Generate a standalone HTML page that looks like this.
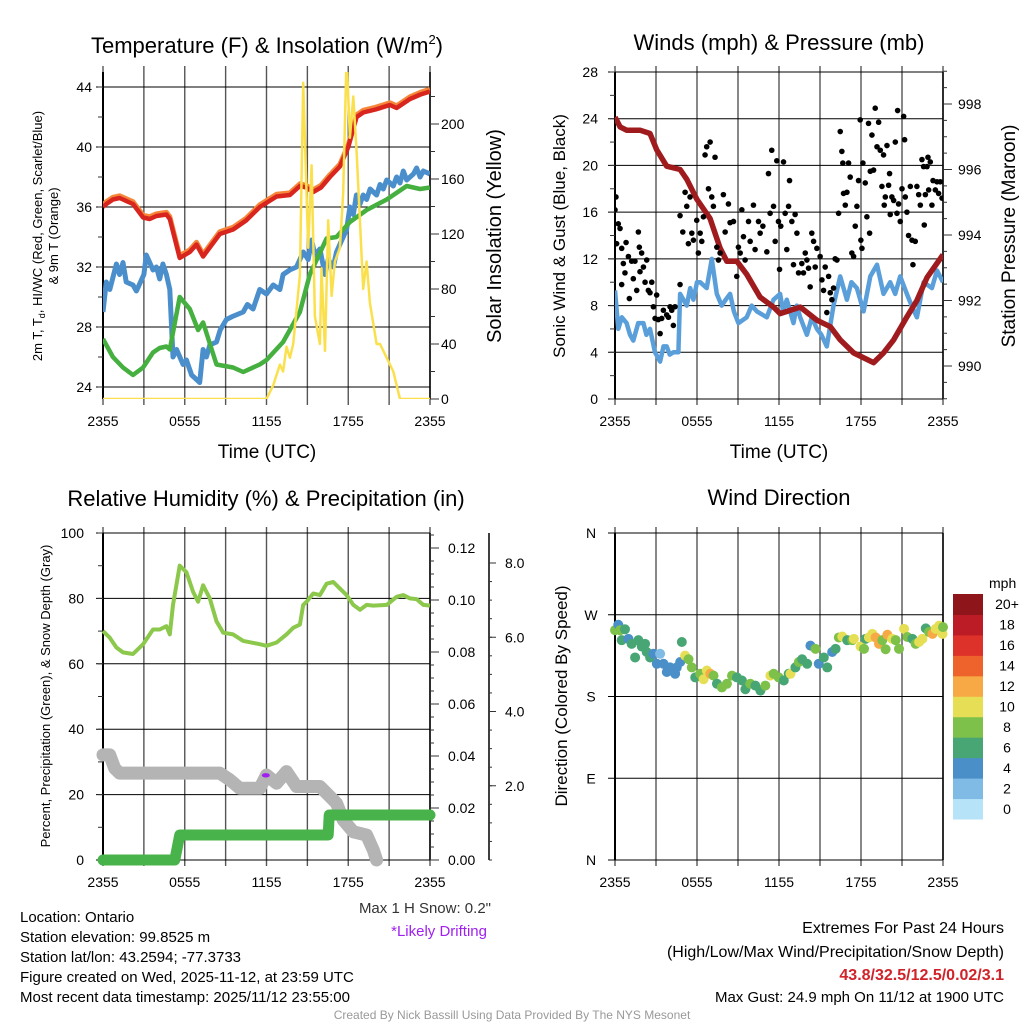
<!DOCTYPE html>
<html><head><meta charset="utf-8"><title>NYS Mesonet Ontario</title>
<style>
html,body{margin:0;padding:0;background:#fff;}
svg{display:block;font-family:"Liberation Sans",Arial,sans-serif;}
</style></head>
<body>
<svg id="fig" xmlns="http://www.w3.org/2000/svg" width="1024" height="1024" viewBox="0 0 1024 1024">
<rect width="1024" height="1024" fill="#fff"/>
<g id="layer"></g>
<!-- titles -->
<text x="267" y="53" font-size="22" text-anchor="middle">Temperature (F) &amp; Insolation (W/m<tspan font-size="13" dy="-9">2</tspan><tspan dy="9">)</tspan></text>
<text x="779" y="50" font-size="22" text-anchor="middle">Winds (mph) &amp; Pressure (mb)</text>
<text x="266" y="506" font-size="22" text-anchor="middle">Relative Humidity (%) &amp; Precipitation (in)</text>
<text x="779" y="505" font-size="22" text-anchor="middle">Wind Direction</text>
<!-- axis titles -->
<text x="267" y="458" font-size="19" text-anchor="middle">Time (UTC)</text>
<text x="779" y="458" font-size="19" text-anchor="middle">Time (UTC)</text>
<text transform="translate(42,236) rotate(-90)" font-size="13" text-anchor="middle">2m T, T<tspan font-size="9" dy="3">d</tspan><tspan dy="-3">, HI/WC (Red, Green, Scarlet/Blue)</tspan></text>
<text transform="translate(58,236) rotate(-90)" font-size="13" text-anchor="middle">&amp; 9m T (Orange)</text>
<text transform="translate(501,236) rotate(-90)" font-size="20" text-anchor="middle">Solar Insolation (Yellow)</text>
<text transform="translate(565,236) rotate(-90)" font-size="17" text-anchor="middle">Sonic Wind &amp; Gust (Blue, Black)</text>
<text transform="translate(1015,236) rotate(-90)" font-size="19" text-anchor="middle">Station Pressure (Maroon)</text>
<text transform="translate(50,696) rotate(-90)" font-size="13" text-anchor="middle">Percent, Precipitation (Green), &amp; Snow Depth (Gray)</text>
<text transform="translate(567,696) rotate(-90)" font-size="17" text-anchor="middle">Direction (Colored By Speed)</text>
<!-- info text -->
<g font-size="15" fill="#000">
<text x="20" y="922">Location: Ontario</text>
<text x="20" y="942">Station elevation: 99.8525 m</text>
<text x="20" y="962">Station lat/lon: 43.2594; -77.3733</text>
<text x="20" y="982">Figure created on Wed, 2025-11-12, at 23:59 UTC</text>
<text x="20" y="1002">Most recent data timestamp: 2025/11/12 23:55:00</text>
<text x="491" y="913" text-anchor="end" fill="#333">Max 1 H Snow: 0.2"</text>
<text x="487" y="936" text-anchor="end" fill="#a020f0">*Likely Drifting</text>
<text x="1004" y="933" text-anchor="end" font-size="16">Extremes For Past 24 Hours</text>
<text x="1004" y="957" text-anchor="end" font-size="16">(High/Low/Max Wind/Precipitation/Snow Depth)</text>
<text x="1004" y="980" text-anchor="end" font-size="16" font-weight="bold" fill="#d0232a">43.8/32.5/12.5/0.02/3.1</text>
<text x="1004" y="1002" text-anchor="end">Max Gust: 24.9 mph On 11/12 at 1900 UTC</text>
</g>
<text x="512" y="1019" text-anchor="middle" font-size="12" fill="#999">Created By Nick Bassill Using Data Provided By The NYS Mesonet</text>
</svg>
<script>
// ---------- DATA ----------
const timeTicks = ["2355","0555","1155","1755","2355"];
const tempTicks = [24,28,32,36,40,44];
const solarTicks = [0,40,80,120,160,200];
const windTicks = [0,4,8,12,16,20,24,28];
const presTicks = [990,992,994,996,998];
const rhTicks = [0,20,40,60,80,100];
const precipTicks = ["0.00","0.02","0.04","0.06","0.08","0.10","0.12"];
const snowTicks = ["2.0","4.0","6.0","8.0"];
const dirTicks = ["N","E","S","W","N"];
const speedBins = ["0","2","4","6","8","10","12","14","16","18","20+"];

const tempHours = [0,0.24,0.73,1.22,1.47,2.2,2.94,3.43,3.92,4.65,4.9,5.63,6.37,6.86,7.35,8.57,9.55,10.5,11.51,12.74,13.72,14.45,14.9,15.43,16.0,16.65,17.39,18.0,18.61,19.1,20.0,21.06,21.55,22.53,23.3,24];
const tempVals  = [36.0,36.2,36.5,36.6,36.5,36.2,35.3,35.2,35.4,35.5,35.2,32.6,33.0,33.5,32.7,34.2,34.5,35.1,36.0,36.7,36.8,37.4,37.3,37.0,37.3,38.0,38.7,40.0,42.0,42.3,42.5,42.8,42.6,43.2,43.5,43.7];
const hiHours = [0,0.24,0.5,0.98,1.22,1.47,1.7,2.2,2.45,3.0,3.18,3.43,3.67,3.92,4.16,4.4,4.65,4.9,5.14,5.4,5.88,6.12,6.5,7.1,7.35,7.59,7.84,8.33,8.6,9.06,9.5,10.29,10.6,11.02,11.5,12.0,12.49,12.98,13.22,13.7,14.2,14.7,15.06,15.31,15.55,15.92,16.29,16.53,16.9,17.14,17.63,17.88,18.12,18.37,18.6,18.86,19.1,19.35,19.6,20.08,20.33,20.57,20.82,21.31,21.55,21.8,22.04,22.29,22.78,23.02,23.27,23.51,24];
const hiVals  = [29.0,31.0,30.5,32.2,31.5,32.3,31.0,30.8,30.4,31.5,32.8,32.3,31.8,32.0,31.2,32.2,31.5,30.5,26.0,26.5,25.5,25.8,24.8,24.3,26.5,26.0,26.8,27.0,27.8,28.5,28.7,29.0,29.5,29.2,30.5,30.2,30.8,30.5,31.5,31.8,32.0,33.0,32.5,33.8,32.8,33.2,31.5,32.5,32.0,33.0,34.0,34.5,36.0,35.5,36.8,36.2,36.8,36.5,37.2,36.8,37.5,37.2,37.8,37.4,38.0,37.6,38.4,37.8,38.2,38.6,38.0,38.4,38.2];
const dewHours = [0,0.73,1.47,2.2,2.94,3.67,4.16,4.65,4.9,5.63,6.37,6.98,7.35,8.33,9.55,10.29,11.5,12.0,13.22,14.45,15.18,16.41,17.14,18.12,19.35,20.82,22.29,23.27,24];
const dewVals  = [27.2,26.0,25.3,24.8,25.3,26.3,26.6,26.7,26.5,30.0,29.2,27.8,28.3,25.5,25.3,25.0,25.5,25.8,27.0,29.0,31.5,33.9,34.0,35.0,35.8,36.5,37.4,37.2,37.3];
const solarHours = [0,12.0,12.49,12.98,13.22,13.47,13.72,13.96,14.45,14.69,15.06,15.31,15.55,15.92,16.04,16.29,16.53,16.78,17.02,17.39,17.63,17.88,18.12,18.37,18.61,19.1,19.35,19.59,20.08,20.33,20.82,21.31,21.8,24];
const solarVals  = [0,0,10,25,20,38,30,40,90,230,110,170,60,40,95,35,130,75,100,110,150,250,190,220,180,80,100,70,40,40,30,20,0,0];

const presHours = [0,0.37,0.85,1.83,2.56,3.05,3.78,4.76,5.25,5.98,6.96,7.69,8.18,8.91,9.64,10.62,11.6,12.08,13.55,14.77,15.75,16.48,17.46,18.43,18.92,19.65,20.39,21.36,22.09,22.83,24];
const presVals  = [997.6,997.3,997.2,997.2,997.1,996.6,996.1,996.0,995.7,995.1,994.5,993.6,993.2,993.2,992.8,992.1,991.8,991.6,991.8,991.4,991.2,990.8,990.4,990.2,990.1,990.4,990.8,991.5,992.0,992.7,993.4];
const sonicHours = [0,0.24,0.5,0.85,1.1,1.34,1.7,2.08,2.3,2.56,2.93,3.3,3.55,3.78,4.0,4.27,4.64,4.76,5.25,5.5,5.74,6.0,6.23,6.71,7.08,7.45,7.81,8.1,8.42,8.7,9.03,9.64,10.0,10.38,11.11,11.6,12.08,12.3,12.57,13.06,13.3,13.55,14.04,14.4,14.77,15.1,15.5,15.99,16.48,16.97,17.3,17.7,18.19,18.68,19.17,19.65,20.14,20.5,20.87,21.36,21.7,22.09,22.58,23.19,23.56,24];
const sonicVals  = [9.3,6.0,7.0,6.5,5.5,5.0,6.5,6.5,5.5,6.0,4.0,3.2,4.5,4.5,3.8,4.0,4.0,9.0,8.0,9.5,8.5,10.0,10.0,9.5,12.0,9.0,8.0,8.5,9.0,7.5,6.5,7.0,8.0,7.5,7.0,8.5,9.0,7.5,8.5,6.5,8.0,7.0,5.5,7.0,6.0,5.5,4.5,8.0,10.5,8.5,10.0,9.5,7.5,10.5,11.5,9.0,10.0,9.0,10.5,9.0,8.0,7.0,10.0,9.5,11.0,10.0];
const gustHours = [0,0.07,0.24,0.37,0.12,0.49,0.61,0.81,0.49,0.73,0.98,1.05,1.22,1.34,1.46,1.59,1.71,1.78,1.83,1.95,2.08,2.2,2.32,2.44,2.56,2.69,2.81,2.93,3.05,3.17,3.3,3.42,3.54,3.78,3.91,4.03,4.15,4.27,4.39,4.76,4.76,4.96,5.13,5.25,5.37,5.49,5.62,5.74,5.98,6.1,6.23,6.35,6.47,6.59,6.71,6.84,6.96,7.08,7.2,7.32,7.45,7.57,7.69,7.93,8.06,8.3,8.42,8.67,8.91,9.03,9.16,9.28,9.4,9.52,9.77,9.89,10.13,10.25,10.5,10.62,10.82,11.11,11.23,11.35,11.47,11.6,11.72,11.84,11.96,12.04,12.13,12.33,12.45,12.57,12.7,12.77,12.94,13.06,13.18,13.31,13.43,13.67,13.79,13.92,14.04,14.16,14.28,14.4,14.53,14.65,14.77,15.01,15.14,15.26,15.38,15.5,15.63,15.75,15.87,15.99,16.11,16.24,16.36,16.48,16.6,16.67,16.72,16.85,16.97,17.09,17.21,17.33,17.46,17.58,17.7,17.82,17.94,17.99,18.07,18.14,18.31,18.43,18.55,18.63,18.68,18.8,18.92,19.04,19.17,19.29,19.41,19.53,19.65,19.7,19.78,19.9,20.02,20.09,20.14,20.26,20.39,20.51,20.63,20.68,20.75,20.87,21.0,21.12,21.19,21.24,21.36,21.48,21.61,21.73,21.8,21.97,22.09,22.22,22.34,22.46,22.58,22.63,22.71,22.83,22.9,22.95,23.07,23.19,23.27,23.44,23.56,23.68,23.8,23.93];
const gustVals  = [16.2,17.3,15.0,14.6,13.3,12.9,11.6,13.4,9.8,10.8,12.2,8.6,11.8,10.3,11.8,9.3,14.3,13.0,10.9,12.5,11.3,10.0,11.9,9.3,9.1,10.0,7.9,6.9,8.9,6.8,5.6,6.9,7.6,7.2,7.0,7.9,7.6,6.3,7.9,9.8,15.7,14.3,17.7,16.5,13.3,17.3,14.2,13.6,15.3,12.5,14.2,13.5,15.6,20.9,21.6,18.0,22.0,17.3,16.5,20.7,13.0,11.9,12.5,17.5,14.3,16.7,15.1,15.2,10.5,13.0,12.5,16.2,13.9,11.9,15.2,13.5,16.6,12.8,15.2,14.2,14.8,12.6,19.3,15.9,21.3,16.5,13.5,20.4,15.2,11.1,14.8,20.3,15.9,12.8,16.5,18.7,15.2,11.5,15.8,14.2,10.8,11.6,10.8,12.5,11.9,11.2,9.6,14.2,13.5,11.3,12.9,12.2,10.2,9.3,11.3,7.4,10.5,9.1,8.5,9.5,12.0,11.9,15.9,22.9,21.2,20.2,17.6,16.6,17.7,20.2,19.0,12.5,12.2,14.8,16.5,18.7,23.9,13.6,12.9,20.2,18.5,15.6,23.6,14.2,19.5,22.6,19.6,24.9,21.6,23.7,21.3,18.2,20.9,16.6,17.3,21.7,18.3,19.3,15.8,17.3,17.0,22.0,15.9,24.7,16.7,15.2,18.0,24.2,22.2,17.3,16.0,14.0,18.2,13.6,11.5,13.5,18.2,17.5,16.6,20.5,19.9,14.9,17.5,19.9,20.7,17.9,20.3,16.6,18.7,17.9,18.6,17.6,18.6,17.2];

const rhHours = [0,0.49,0.98,1.47,2.2,2.94,3.67,4.16,4.65,4.9,5.14,5.63,6.12,6.61,6.98,7.35,7.84,8.33,8.82,9.55,10.29,11.51,12.0,12.74,13.47,13.96,14.45,14.69,14.94,15.43,15.92,16.41,16.9,17.39,17.88,18.37,18.86,19.35,19.84,20.82,21.55,22.04,22.53,23.02,23.51,24];
const rhVals  = [70,68,65,63.5,63,66,70.5,70.5,71.5,69,78,90,88,82,79,84,80,73,69.5,69,67,66,65.5,66.5,69,71,72,78,79,81.5,81,84.5,85,83,81,78,76.5,78,77.8,78,80.5,81,80,79.8,78,77.8];
const precipHours = [0,5.27,5.63,16.53,16.6,24];
const precipVals  = [0.0,0.0,0.0096,0.0096,0.0173,0.0173];
const snowHours = [0,0.49,0.86,1.22,8.57,9.31,10.04,11.51,12.0,12.74,13.47,14.2,15.92,16.65,17.14,17.63,18.37,19.35,19.84,20.08];
const snowVals  = [2.83,2.83,2.47,2.34,2.34,2.16,1.93,1.93,2.29,2.07,2.38,1.98,1.98,1.71,1.53,1.08,0.76,0.67,0.27,0.0];
const driftHour = 11.95;
const driftVal = 2.28;

const dirHours = [0,0.24,0.37,0.73,0.49,0.98,1.22,1.47,1.71,1.96,2.2,2.32,2.57,2.81,3.06,3.3,3.55,3.79,4.03,4.4,4.52,4.77,4.89,5.13,5.38,5.62,5.87,6.23,6.48,6.72,6.97,7.21,7.46,7.82,8.19,8.56,8.92,9.29,9.54,9.9,10.27,10.64,11.0,11.37,11.61,11.98,12.35,12.71,12.84,13.2,13.45,13.69,14.06,14.3,14.67,14.91,15.28,15.53,15.89,16.14,16.38,16.63,16.99,17.36,17.48,17.97,18.22,18.34,18.58,18.83,19.07,19.32,19.56,19.8,19.93,20.29,20.54,20.78,21.15,21.39,21.76,22.0,22.25,22.49,22.74,22.98,23.23,23.47,23.72,23.96,24];
const dirVals  = [253,259,253,254,242,243.5,238,223,242,235,238,229,223,227,216,227,216,207,212,205,212,218,240,225,221,212,201,205,199,208.6,205,203,194,190,194,203,201,197.6,188,194,192,186.5,192,203,205,201,197.6,205,205,212,218,221,216,236,232.5,216,223,212,229,232.5,245,246,242,242,243.5,235,232.5,243.5,245,249,245,238,242,232,248,243.5,242,232.5,254.5,245.5,243.5,238,240,243.5,255,251,249,254.5,258,249,256.4];
const dirSpeeds = [8,4,8,6,6,4,6,6,6,6,6,6,6,4,4,2,4,4,4,4,4,4,6,10,8,8,6,8,10,10,12,8,6,8,8,8,6,6,6,8,6,6,8,10,8,8,6,6,10,6,8,6,6,4,8,4,6,6,4,6,8,10,6,8,10,10,8,6,10,10,12,12,8,8,12,10,8,8,10,8,6,8,10,10,6,8,12,10,10,10,8];

// ---------- HELPERS ----------
const NS = "http://www.w3.org/2000/svg";
const layer = document.getElementById("layer");
function mk(tag, attrs, parent){
  const e = document.createElementNS(NS, tag);
  for (const k in attrs) e.setAttribute(k, attrs[k]);
  (parent || layer).appendChild(e);
  return e;
}
function lin(d0,d1,r0,r1){ return v => r0 + (v-d0)/(d1-d0)*(r1-r0); }

const X0=103, X1=430, X2=615, X3=943;
const xL = lin(0,24,X0,X1);
const xR = lin(0,24,X2,X3);
const TOP1=72, BOT1=399, TOP2=533, BOT2=860;

function grid(x0,x1,top,bot,hYs,name){
  const g = mk("g",{});
  
  
  for (let i=0;i<=8;i++){
    const x = x0 + i*(x1-x0)/8;
    const l = mk("line",{x1:x,x2:x,y1:top-6,y2:bot+6,stroke:"#555","stroke-width":1.4},g);
    
    
  }
  hYs.forEach(y=>{
    const l = mk("line",{x1:x0-7,x2:x1,y1:y,y2:y,stroke:"#000","stroke-width":1},g);
    
    
  });
  const fr = mk("line",{x1:x0,x2:x0,y1:top,y2:bot,stroke:"#000","stroke-width":2},g);
  
  
  const fr2 = mk("line",{x1:x1,x2:x1,y1:top,y2:bot,stroke:"#000","stroke-width":1.5},g);
  
  
  timeTicks.forEach((t,i)=>{
    const tx = mk("text",{x:x0+i*(x1-x0)/4,y:bot+27,"font-size":14,"text-anchor":"middle"},g);
    tx.textContent = t;
    
    
  });
  return g;
}
function yLabels(vals,scale,x,anchor,name,fs){
  vals.forEach(v=>{
    const t = mk("text",{x:x,y:scale(parseFloat(v))+5,"font-size":fs||14,"text-anchor":anchor});
    t.textContent = v;
    
    
  });
}
function minorTicks(x,from,to,step,scale,dir,len){
  for (let v=from; v<=to+1e-9; v+=step){
    const y = scale(v);
    const l = mk("line",{x1:x,x2:x+dir*len,y1:y,y2:y,stroke:"#333","stroke-width":1});
    
    
  }
}
function pathD(hs,vs,xs,ys){
  return hs.map((h,i)=>(i?"L":"M")+xs(h).toFixed(1)+","+ys(vs[i]).toFixed(1)).join("");
}
function clip(id,x0,x1,top,bot){
  const defs = mk("defs",{});
  const c = mk("clipPath",{id:id},defs);
  mk("rect",{x:x0,y:top,width:x1-x0,height:bot-top},c);
}

// ---------- PANEL 1: Temperature ----------
const yT = lin(24,44,387,87);
const yS = lin(0,200,399,124);
grid(X0,X1,TOP1,BOT1,tempTicks.map(yT),"temperature-grid");
yLabels(tempTicks,yT,92,"end","temp-y-tick-label");
yLabels(solarTicks,yS,441,"start","solar-y-tick-label");
minorTicks(X0,24,44,2,yT,-1,5);
minorTicks(X1,0,230,20,yS,1,5);
minorTicks(X1,0,200,40,yS,1,9);
clip("c1",X0,X1,TOP1,BOT1);
const p1 = mk("g",{"clip-path":"url(#c1)"});


let s;
s = mk("path",{d:pathD(tempHours,tempVals.map(v=>v+0.15),xL,yT),fill:"none",stroke:"#f6873a","stroke-width":5,"stroke-linejoin":"round"},p1);


s = mk("path",{d:pathD(tempHours,tempVals,xL,yT),fill:"none",stroke:"#d8261f","stroke-width":4.5,"stroke-linejoin":"round"},p1);


s = mk("path",{d:pathD(hiHours,hiVals,xL,yT),fill:"none",stroke:"#4a8fcc","stroke-width":5,"stroke-linejoin":"round"},p1);


s = mk("path",{d:pathD(dewHours,dewVals,xL,yT),fill:"none",stroke:"#45b040","stroke-width":4.5,"stroke-linejoin":"round"},p1);


s = mk("path",{d:pathD(solarHours,solarVals,xL,yS),fill:"none",stroke:"#fbe04e","stroke-width":2.5,"stroke-linejoin":"round"},p1);



// ---------- PANEL 2: Winds ----------
const yW = lin(0,28,399,72);
const yP = lin(990,998,366,104);
grid(X2,X3,TOP1,BOT1,windTicks.map(yW),"winds-grid");
yLabels(windTicks,yW,598,"end","wind-y-tick-label");
yLabels(presTicks,yP,958,"start","pressure-y-tick-label");
minorTicks(X2,0,28,2,yW,-1,5);
minorTicks(X3,989,999,0.5,yP,1,4);
minorTicks(X3,990,998,2,yP,1,9);
clip("c2",X2,X3,TOP1-2,BOT1);
const p2 = mk("g",{"clip-path":"url(#c2)"});


s = mk("path",{d:pathD(sonicHours,sonicVals,xR,yW),fill:"none",stroke:"#5a9fda","stroke-width":4.5,"stroke-linejoin":"round"},p2);


s = mk("path",{d:pathD(presHours,presVals,xR,yP),fill:"none",stroke:"#a01b1d","stroke-width":5.5,"stroke-linejoin":"round"},p2);


gustHours.forEach((h,i)=>{
  const c = mk("circle",{cx:xR(h),cy:yW(gustVals[i]),r:2.8,fill:"#000"},p2);
  
  
});

// ---------- PANEL 3: RH & Precip ----------
const yRH = lin(0,100,860,533);
const yPr = lin(0,0.12,860,548);
const ySn = lin(0,8,860,563);
grid(X0,X1,TOP2,BOT2,rhTicks.map(yRH),"humidity-grid");
yLabels(rhTicks,yRH,84,"end","rh-y-tick-label");
precipTicks.forEach(v=>{
  const t = mk("text",{x:448,y:yPr(parseFloat(v))+5,"font-size":14,"text-anchor":"start"});
  t.textContent = v;
  
  
});
minorTicks(X0,0,100,10,yRH,-1,5);
minorTicks(X1,0,0.125,0.005,yPr,1,4);
minorTicks(X1,0,0.12,0.02,yPr,1,9);
const snowAxis = mk("line",{x1:489,x2:489,y1:533,y2:860,stroke:"#000","stroke-width":1.5});


minorTicks(489,0,8.2,0.5,ySn,1,3);
minorTicks(489,2,8,2,ySn,1,7);
snowTicks.forEach(v=>{
  const t = mk("text",{x:505,y:ySn(parseFloat(v))+5,"font-size":14,"text-anchor":"start"});
  t.textContent = v;
  
  
});
const p3 = mk("g",{});


s = mk("path",{d:pathD(snowHours,snowVals,xL,ySn),fill:"none",stroke:"#b4b4b4","stroke-width":13,"stroke-linejoin":"round","stroke-linecap":"round"},p3);


s = mk("path",{d:pathD(precipHours,precipVals,xL,yPr),fill:"none",stroke:"#48b34a","stroke-width":11,"stroke-linejoin":"round","stroke-linecap":"round"},p3);


s = mk("path",{d:pathD(rhHours,rhVals,xL,yRH),fill:"none",stroke:"#8cc84b","stroke-width":4,"stroke-linejoin":"round"},p3);


s = mk("ellipse",{cx:xL(driftHour),cy:ySn(driftVal),rx:4,ry:2.2,fill:"#a020f0"},p3);



// ---------- PANEL 4: Wind direction ----------
const yD = lin(0,360,860,533);
grid(X2,X3,TOP2,BOT2,[0,90,180,270,360].map(yD),"direction-grid");
dirTicks.forEach((v,i)=>{
  const t = mk("text",{x:591,y:yD(i*90)+5,"font-size":14,"text-anchor":"middle"});
  t.textContent = v;
  
  
});
const binColors = ["#b6e3f8","#7fbbe5","#4a8fc8","#48a674","#7dc14a","#e6df56","#f6a945","#ee622b","#dd3229","#bc1c25","#8e151a"];
function speedColor(sp){ return binColors[Math.min(10,Math.max(0,Math.round(sp/2)))]; }
const p4 = mk("g",{});


dirHours.forEach((h,i)=>{
  const c = mk("circle",{cx:xR(h),cy:yD(dirVals[i]),r:5,fill:speedColor(dirSpeeds[i])},p4);
  
  
});
// colorbar
const cb = mk("g",{});


const cbTop=594, cbH=(819-594)/11;
const unit = mk("text",{x:989,y:588,"font-size":14,"text-anchor":"start"},cb);
unit.textContent = "mph";


speedBins.forEach((b,i)=>{
  const k = 10-i;
  const r = mk("rect",{x:953,y:cbTop+k*cbH,width:30,height:cbH+0.5,fill:binColors[i]},cb);
  
  
  const t = mk("text",{x:1007,y:cbTop+k*cbH+cbH/2+5,"font-size":14,"text-anchor":"middle"},cb);
  t.textContent = b;
  
  
});
</script>
</body></html>
